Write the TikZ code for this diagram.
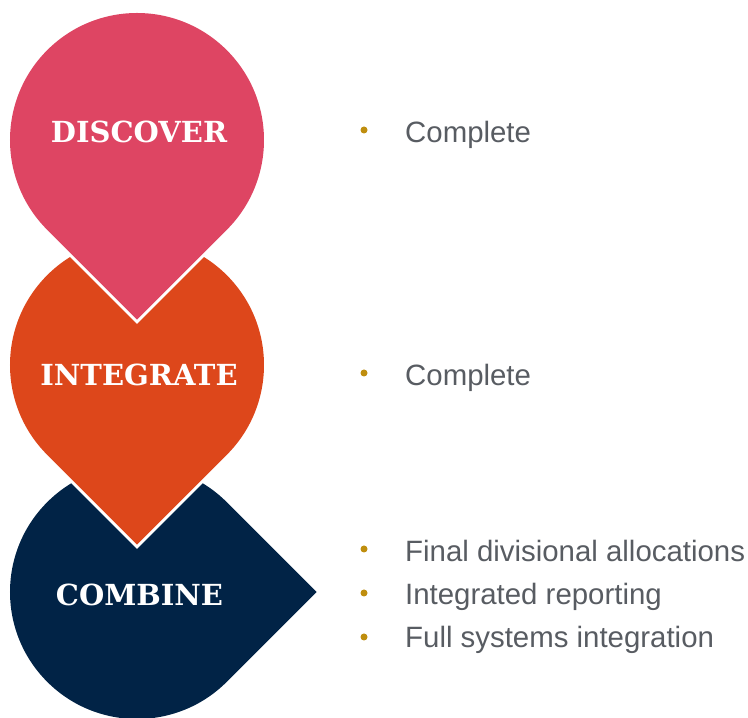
\documentclass[tikz,border=0pt]{standalone}
\usepackage{fontspec}
\setmainfont{Liberation Sans}
\newfontfamily\labelfont{DejaVu Serif}
\definecolor{cpink}{RGB}{222,69,99}
\definecolor{corange}{RGB}{221,71,27}
\definecolor{cnavy}{RGB}{1,35,70}
\definecolor{cgray}{RGB}{88,92,98}
\definecolor{cgold}{RGB}{191,142,14}
\begin{document}
\begin{tikzpicture}[x=1pt,y=1pt,
  drop/.style={fill=#1, preaction={draw=white, line width=6pt}},
  lbl/.style={text=white, font=\labelfont\bfseries\fontsize{29}{33}\selectfont, inner sep=0pt},
  item/.style={anchor=base west, text=cgray, font=\fontsize{29.4}{35}\selectfont, inner sep=0pt},
  dot/.style={circle, fill=cgold, inner sep=0pt, minimum size=7pt}]
\useasboundingbox (0,0) rectangle (748,718);
% COMBINE shape (tip to the right)
\path[fill=cnavy] (316.6,126) -- (226.8,215.8) arc[start angle=45,end angle=315,radius=127] -- cycle;
% INTEGRATE shape
\path[drop=corange] (137,173.4) -- (226.8,263.2) arc[start angle=-45,end angle=225,radius=127] -- cycle;
% DISCOVER shape
\path[drop=cpink] (137,398.4) -- (226.8,488.2) arc[start angle=-45,end angle=225,radius=127] -- cycle;
% labels
\node[lbl] (discover) at (139,586) {DISCOVER};
\node[lbl] (integrate) at (139,343) {INTEGRATE};
\node[lbl] (combine) at (139.5,123) {COMBINE};
% bullets and items
\node[dot] (b1) at (364,588) {};
\node[item] (t1) at (405,575) {Complete};
\node[dot] (b2) at (364,345) {};
\node[item] (t2) at (405,332) {Complete};
\node[dot] (b3) at (364,169) {};
\node[item] (t3) at (405,156.3) {Final divisional allocations};
\node[dot] (b4) at (364,125) {};
\node[item] (t4) at (405,113) {Integrated reporting};
\node[dot] (b5) at (364,81) {};
\node[item] (t5) at (405,70) {Full systems integration};
\end{tikzpicture}
\end{document}
